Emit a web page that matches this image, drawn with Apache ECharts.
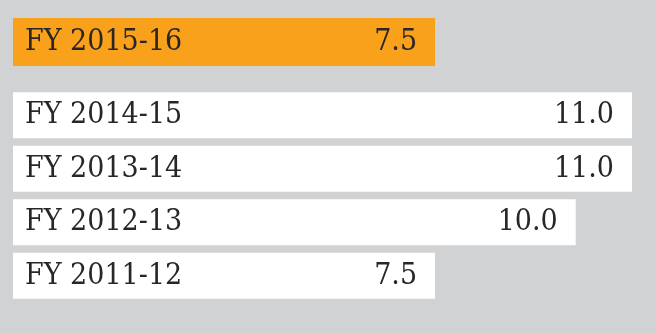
<!DOCTYPE html>
<html><head><meta charset="utf-8">
<script src="https://cdn.jsdelivr.net/npm/echarts@6/dist/echarts.min.js"></script>
<style>html,body{margin:0;padding:0;background:#d1d2d4;}#c{width:656px;height:333px;}</style>
</head><body><div id="c"></div>
<script>
const currentCategory = ['FY 2015-16'];
const currentValues = [7.5];
const pastCategories = ['FY 2014-15', 'FY 2013-14', 'FY 2012-13', 'FY 2011-12'];
const pastValues = [11.0, 11.0, 10.0, 7.5];

const FONT = "'DejaVu Serif Condensed', 'DejaVu Serif', serif";
const TXT = '#2a2627';
const valLabel = {show: true, position: 'insideRight', distance: 18, color: TXT, fontFamily: FONT, fontSize: 30,
  formatter: p => p.value.toFixed(1)};
const catLabel = {show: true, position: 'insideLeft', distance: 12, color: TXT, fontFamily: FONT, fontSize: 30,
  formatter: p => p.name};

const chart = echarts.init(document.getElementById('c'), null, {renderer: 'canvas'});
chart.setOption({
  backgroundColor: '#d1d2d4',
  animation: false,
  grid: [
    {left: 13, top: 18, width: 619, height: 48},
    {left: 13, top: 88.5, width: 619, height: 214}
  ],
  xAxis: [
    {gridIndex: 0, type: 'value', min: 0, max: 11, show: false},
    {gridIndex: 1, type: 'value', min: 0, max: 11, show: false}
  ],
  yAxis: [
    {gridIndex: 0, type: 'category', data: currentCategory, show: false},
    {gridIndex: 1, type: 'category', data: pastCategories, inverse: true, show: false}
  ],
  series: [
    {type: 'bar', xAxisIndex: 0, yAxisIndex: 0, data: currentValues, barWidth: 48,
     itemStyle: {color: '#f9a11b'}, label: valLabel},
    {type: 'bar', xAxisIndex: 0, yAxisIndex: 0, data: currentValues, barWidth: 48, barGap: '-100%',
     itemStyle: {color: 'rgba(0,0,0,0)'}, label: catLabel, z: 3},
    {type: 'bar', xAxisIndex: 1, yAxisIndex: 1, data: pastValues, barWidth: 46,
     itemStyle: {color: '#ffffff'}, label: valLabel},
    {type: 'bar', xAxisIndex: 1, yAxisIndex: 1, data: pastValues, barWidth: 46, barGap: '-100%',
     itemStyle: {color: 'rgba(0,0,0,0)'}, label: catLabel, z: 3}
  ]
});
</script></body></html>
